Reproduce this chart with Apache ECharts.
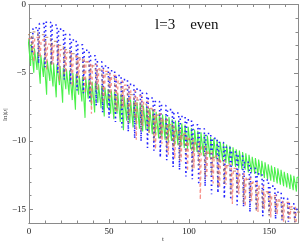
<!DOCTYPE html>
<html><head><meta charset="utf-8">
<script src="https://cdn.jsdelivr.net/npm/echarts@6/dist/echarts.min.js"></script>
<style>html,body{margin:0;padding:0;background:#fff}#c{width:300px;height:247px}</style>
</head><body><div id="c"></div>
<script>
// tick labels
const xTicks = [0, 50, 100, 150];
const yTicks = [-15, -10, -5, 0];
const annotation = 'l=3    even';
const xName = 't';
const yName = 'ln|\u03c8|';

// green: peaks at t = 0,2,...,168 ; dips at t = 1,3,...,167
const greenTop = [-2.5,-2.9,-3.2,-3.5,-3.7,-3.9,-4.1,-4.2,-4.3,-4.4,-4.5,-4.65,-4.75,-4.85,-5.0,-5.1,-5.2,-5.3,-5.4,-5.5,-5.65,-5.75,-5.85,-5.95,-6.1,-6.2,-6.3,-6.4,-6.5,-6.6,-6.75,-6.85,-6.95,-7.05,-7.15,-7.3,-7.4,-7.5,-7.6,-7.7,-7.85,-7.95,-8.05,-8.15,-8.25,-8.4,-8.5,-8.6,-8.7,-8.8,-8.95,-9.05,-9.15,-9.25,-9.35,-9.5,-9.6,-9.7,-9.8,-9.9,-10.05,-10.15,-10.25,-10.35,-10.45,-10.6,-10.7,-10.8,-10.9,-11.0,-11.15,-11.25,-11.35,-11.45,-11.55,-11.7,-11.8,-11.9,-12.0,-12.1,-12.25,-12.35,-12.45,-12.55,-12.65];
const greenDip = [-4.5,-5.0,-4.8,-5.8,-5.3,-6.6,-5.6,-6.0,-6.8,-5.9,-7.2,-6.2,-6.6,-7.0,-7.7,-6.6,-7.1,-8.3,-6.9,-7.4,-7.9,-7.2,-7.6,-8.2,-7.6,-8.0,-8.4,-8.0,-8.6,-9.2,-8.5,-8.7,-9.0,-8.8,-9.1,-9.3,-9.2,-9.4,-9.5,-9.5,-9.8,-9.7,-9.9,-10.1,-10.0,-10.3,-10.3,-10.4,-10.5,-10.6,-10.6,-10.8,-10.8,-10.9,-11.1,-11.0,-11.2,-11.3,-11.3,-11.5,-11.5,-11.6,-11.7,-11.8,-11.9,-12.0,-12.1,-12.1,-12.3,-12.3,-12.4,-12.5,-12.6,-12.7,-12.8,-12.9,-13.0,-13.1,-13.2,-13.3,-13.4,-13.5,-13.6,-13.7];

// blue: peaks at t = 0,4,...,168 ; dips at t = 2,6,...,166
const blueTop = [-2.4,-1.7,-1.4,-1.3,-1.5,-1.8,-2.2,-2.6,-2.95,-3.35,-3.75,-4.2,-4.5,-4.85,-5.2,-5.5,-5.85,-6.2,-6.5,-6.85,-7.1,-7.4,-7.7,-7.95,-8.2,-8.45,-8.8,-9.1,-9.45,-9.8,-10.1,-10.45,-10.8,-11.1,-11.55,-12.0,-12.4,-12.85,-13.3,-13.75,-14.2,-14.6,-15.0];
const blueDip = [-3.6,-4.3,-4.6,-4.4,-5.0,-5.5,-5.8,-6.3,-6.5,-7.1,-7.4,-7.9,-8.3,-8.6,-9.0,-9.3,-9.8,-10.0,-10.5,-10.7,-11.2,-11.4,-11.9,-12.1,-12.6,-12.8,-13.2,-13.3,-13.9,-13.8,-14.2,-14.3,-14.7,-14.8,-15.2,-15.1,-15.5,-15.4,-15.7,-15.8,-15.9,-15.9];

// red: peaks at t = 1,5,...,165 ; dips at t = 3,7,...,167
const redTop = [-2.5,-2.4,-2.6,-2.9,-3.0,-3.3,-3.5,-3.8,-4.0,-4.2,-4.4,-4.7,-4.9,-5.2,-5.6,-5.9,-6.3,-6.7,-7.1,-7.6,-8.0,-8.4,-8.8,-9.2,-9.5,-9.8,-10.1,-10.4,-10.8,-11.1,-11.4,-11.7,-12.0,-12.4,-12.7,-13.0,-13.3,-13.7,-14.0,-14.3,-14.5,-14.8];
const redDip = [-4.2,-3.9,-4.8,-4.4,-5.6,-5.0,-6.0,-5.4,-6.5,-8.0,-6.3,-7.0,-6.8,-7.8,-7.5,-8.2,-9.9,-8.9,-9.5,-10.6,-10.2,-11.0,-11.3,-11.5,-12.2,-12.0,-14.3,-12.6,-13.1,-13.4,-13.2,-14.6,-13.9,-14.8,-14.4,-15.2,-15.0,-15.6,-15.4,-15.9,-15.7,-16.0];

// brown: peaks at t = 0,4,...,168 ; dips at t = 2,6,...,166
const brownTop = [-2.2,-2.0,-2.2,-2.4,-2.7,-3.0,-3.3,-3.6,-3.9,-4.2,-4.5,-4.8,-5.1,-5.4,-5.8,-6.2,-6.6,-7.0,-7.3,-7.7,-8.1,-8.5,-8.9,-9.3,-9.6,-9.9,-10.2,-10.5,-10.9,-11.2,-11.5,-11.8,-12.2,-12.5,-12.8,-13.1,-13.5,-13.8,-14.1,-14.4,-14.7,-15.0,-15.2];
const brownDip = [-3.5,-3.8,-4.0,-4.5,-4.3,-5.2,-5.0,-5.8,-5.6,-6.6,-6.2,-7.2,-7.0,-7.9,-7.6,-8.7,-8.4,-9.3,-9.1,-10.0,-9.8,-10.7,-10.5,-11.4,-11.1,-12.1,-11.8,-12.8,-12.5,-13.4,-13.2,-14.0,-13.8,-14.6,-14.4,-15.1,-14.9,-15.5,-15.3,-15.8,-15.7,-16.0];

// each peak is drawn as a short flat top, each dip as a narrow spike
function spiky(tops, dips, t0, step, w) {
  const out = [];
  for (let i = 0; i < tops.length; i++) {
    const t = t0 + i * step;
    out.push([t - w, tops[i]]);
    out.push([t + w, tops[i]]);
    if (i < dips.length) out.push([t + step / 2, dips[i]]);
  }
  return out;
}

const chart = echarts.init(document.getElementById('c'), null, {renderer: 'canvas'});
const font = 'Liberation Serif';
const axisCol = '#8a8a8a';
const common = {
  type: 'value',
  axisLine: {show: true, onZero: false, lineStyle: {color: axisCol, width: 1}},
  splitLine: {show: false}
};
function xAx(pos, major, labels) {
  return Object.assign({}, common, {
    min: 0, max: 168, interval: 10, position: pos,
    axisTick: major ? {show: true, inside: true, length: 4, customValues: xTicks, lineStyle: {color: axisCol}}
                    : {show: true, inside: true, length: 2.5, lineStyle: {color: axisCol}},
    axisLabel: labels ? {show: true, customValues: xTicks, color: '#222', fontFamily: font, fontSize: 9, margin: 4}
                      : {show: false}
  });
}
function yAx(pos, major, labels) {
  return Object.assign({}, common, {
    min: -16, max: 0, interval: 1, position: pos,
    axisTick: major ? {show: true, inside: true, length: 4, customValues: yTicks, lineStyle: {color: axisCol}}
                    : {show: true, inside: true, length: 2.5, lineStyle: {color: axisCol}},
    axisLabel: labels ? {show: true, customValues: yTicks, color: '#222', fontFamily: font, fontSize: 9, margin: 3,
                         formatter: v => (v < 0 ? '\u2212' + Math.abs(v) : String(v))}
                      : {show: false}
  });
}
function line(data, color, type, width) {
  return {type: 'line', data: data, showSymbol: false, symbol: 'none', clip: true,
    lineStyle: {color: color, type: type, width: width}, animation: false};
}
chart.setOption({
  animation: false,
  grid: {left: 29, right: 2, top: 4, bottom: 24},
  xAxis: [xAx('bottom', false, true), xAx('bottom', true, false), xAx('top', false, false), xAx('top', true, false)],
  yAxis: [yAx('left', false, true), yAx('left', true, false), yAx('right', false, false), yAx('right', true, false)],
  graphic: [
    {type: 'text', left: 155, top: 18, style: {text: annotation, font: '15px "Liberation Serif"', fill: '#111'}},
    {type: 'text', left: 162, top: 236, style: {text: xName, font: '7px "Liberation Serif"', fill: '#333'}},
    {type: 'text', x: 2, y: 121, rotation: Math.PI / 2, style: {text: yName, font: '7px "Liberation Serif"', fill: '#333'}}
  ],
  series: [
    line(spiky(greenTop, greenDip, 0, 2, 0.6), '#4cf04c', 'solid', 1.1),
    line(spiky(blueTop, blueDip, 0, 4, 1.5), '#2525ff', [1.5, 3], 1.6),
    line(spiky(brownTop, brownDip, 0, 4, 1.4), 'rgba(176,120,80,0.7)', [3, 3], 1.3),
    line(spiky(redTop, redDip, 1, 4, 1.4), 'rgba(245,120,110,0.8)', [3, 3], 1.3)
  ]
});
</script></body></html>
